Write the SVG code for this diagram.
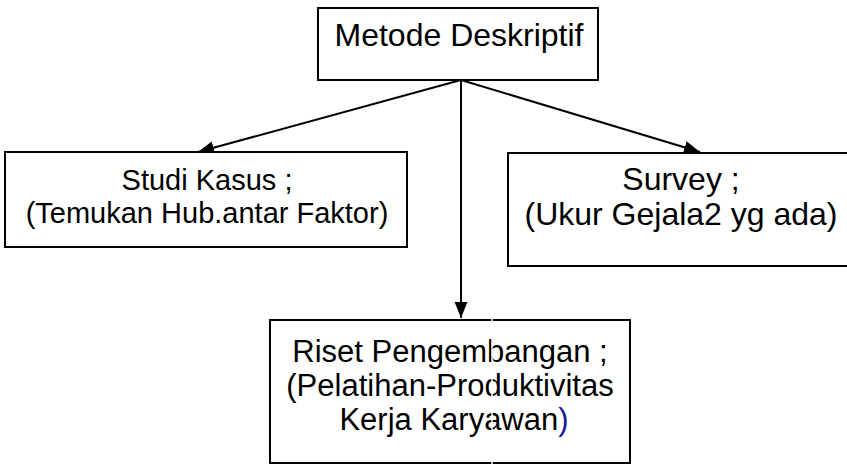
<svg xmlns="http://www.w3.org/2000/svg" width="847" height="464" viewBox="0 0 847 464">
<style>
.box{fill:#fff;stroke:#000;stroke-width:2}
.t{font-family:"Liberation Sans",Arial,sans-serif;font-size:31px;fill:#000;text-anchor:middle}
.c{stroke:#000;stroke-width:2;fill:none}
.seam{stroke:#fff;stroke-width:1.5}
</style>
<defs>
<marker id="ah" viewBox="0 0 10 10" refX="10" refY="5" markerWidth="8" markerHeight="8" markerUnits="strokeWidth" orient="auto">
<path d="M0,1 L10,5 L0,9 z" fill="#000"/>
</marker>
</defs>
<rect width="847" height="464" fill="#fff"/>
<g id="connectors">
<line class="c" x1="461" y1="80" x2="198" y2="152" marker-end="url(#ah)"/>
<line class="c" x1="461" y1="80" x2="700" y2="152" marker-end="url(#ah)"/>
<line class="c" x1="461" y1="80" x2="461" y2="318" marker-end="url(#ah)"/>
</g>
<g id="metode">
<rect class="box" x="318" y="8" width="280" height="72"/>
<text class="t" x="459" y="46" style="font-size:32px">Metode Deskriptif</text>
</g>
<g id="studi">
<rect class="box" x="5" y="152" width="402" height="95"/>
<text class="t" x="207" y="190" style="font-size:29px">Studi Kasus ;</text>
<text class="t" x="207" y="223" style="font-size:29px">(Temukan Hub.antar Faktor)</text>
</g>
<g id="survey">
<rect class="box" x="508" y="153" width="345" height="113"/>
<text class="t" x="681" y="190" style="font-size:32px">Survey ;</text>
<text class="t" x="681" y="225" style="font-size:32px">(Ukur Gejala2 yg ada)</text>
</g>
<g id="riset">
<rect class="box" x="270" y="320" width="360" height="143"/>
<text class="t" x="450" y="362">Riset Pengembangan ;</text>
<text class="t" x="450" y="396">(Pelatihan-Produktivitas</text>
<text class="t" x="454" y="430">Kerja Karyawan<tspan fill="#1a1a9a">)</tspan></text>
<line class="seam" x1="492" y1="318" x2="492" y2="464"/>
</g>
</svg>
